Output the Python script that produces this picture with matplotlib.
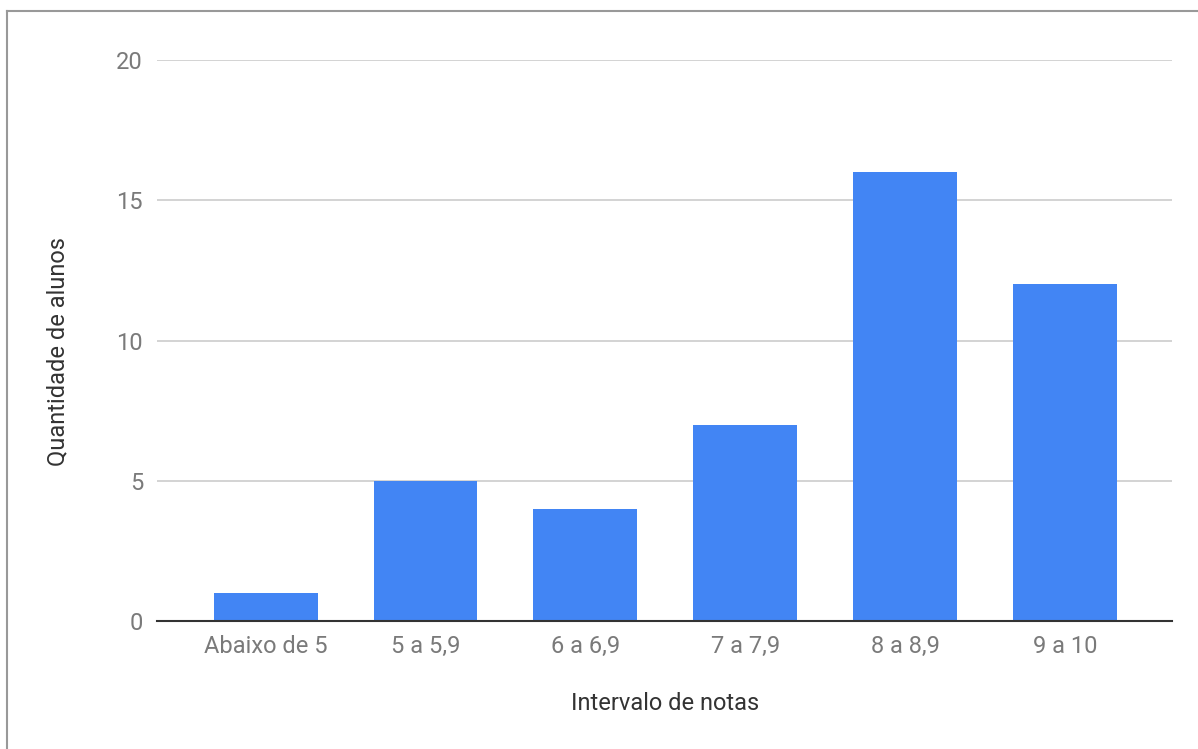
import matplotlib.pyplot as plt
from matplotlib.lines import Line2D

# distribuicao de notas
categorias = ["Abaixo de 5", "5 a 5,9", "6 a 6,9", "7 a 7,9", "8 a 8,9", "9 a 10"]
alunos = [1, 5, 4, 7, 16, 12]
yticks = [0, 5, 10, 15, 20]

plt.rcParams['font.family'] = ['Roboto', 'DejaVu Sans']

W, H = 1198, 749
fig = plt.figure(figsize=(W / 100, H / 100), dpi=100)
ax = fig.add_axes([157 / W, 1 - 621 / H, (1172 - 157) / W, (621 - 60) / H])

x = range(len(categorias))
ax.bar(x, alunos, width=0.65, color="#4285F4", zorder=3)

ax.set_ylim(0, 20)
ax.set_xlim(-0.68, len(categorias) - 0.33)
ax.set_yticks(yticks)
ax.set_xticks(list(x))
ax.set_xticklabels(categorias)
ax.grid(axis="y", color="#cccccc", linewidth=1.2, zorder=0)
ax.tick_params(length=0, labelsize=17, colors="#7a7a7a")
ax.tick_params(axis="y", pad=10)
ax.tick_params(axis="x", pad=10)
for s in ["top", "right", "left"]:
    ax.spines[s].set_visible(False)
ax.spines["bottom"].set_color("#333333")
ax.spines["bottom"].set_linewidth(1.5)
ax.spines["bottom"].set_zorder(4)

fig.text(665 / W, 1 - 703 / H, "Intervalo de notas", ha="center", va="center",
         fontsize=17, color="#333333")
fig.text(58 / W, 1 - 352 / H, "Quantidade de alunos", ha="center", va="center",
         rotation=90, fontsize=17, color="#333333")

# moldura cinza (so topo e esquerda)
fig.add_artist(Line2D([7 / W, 1], [1 - 11 / H, 1 - 11 / H], transform=fig.transFigure,
                      color="#999999", linewidth=1.5))
fig.add_artist(Line2D([7 / W, 7 / W], [0, 1 - 11 / H], transform=fig.transFigure,
                      color="#999999", linewidth=1.5))

fig.savefig("out.png", dpi=100)
